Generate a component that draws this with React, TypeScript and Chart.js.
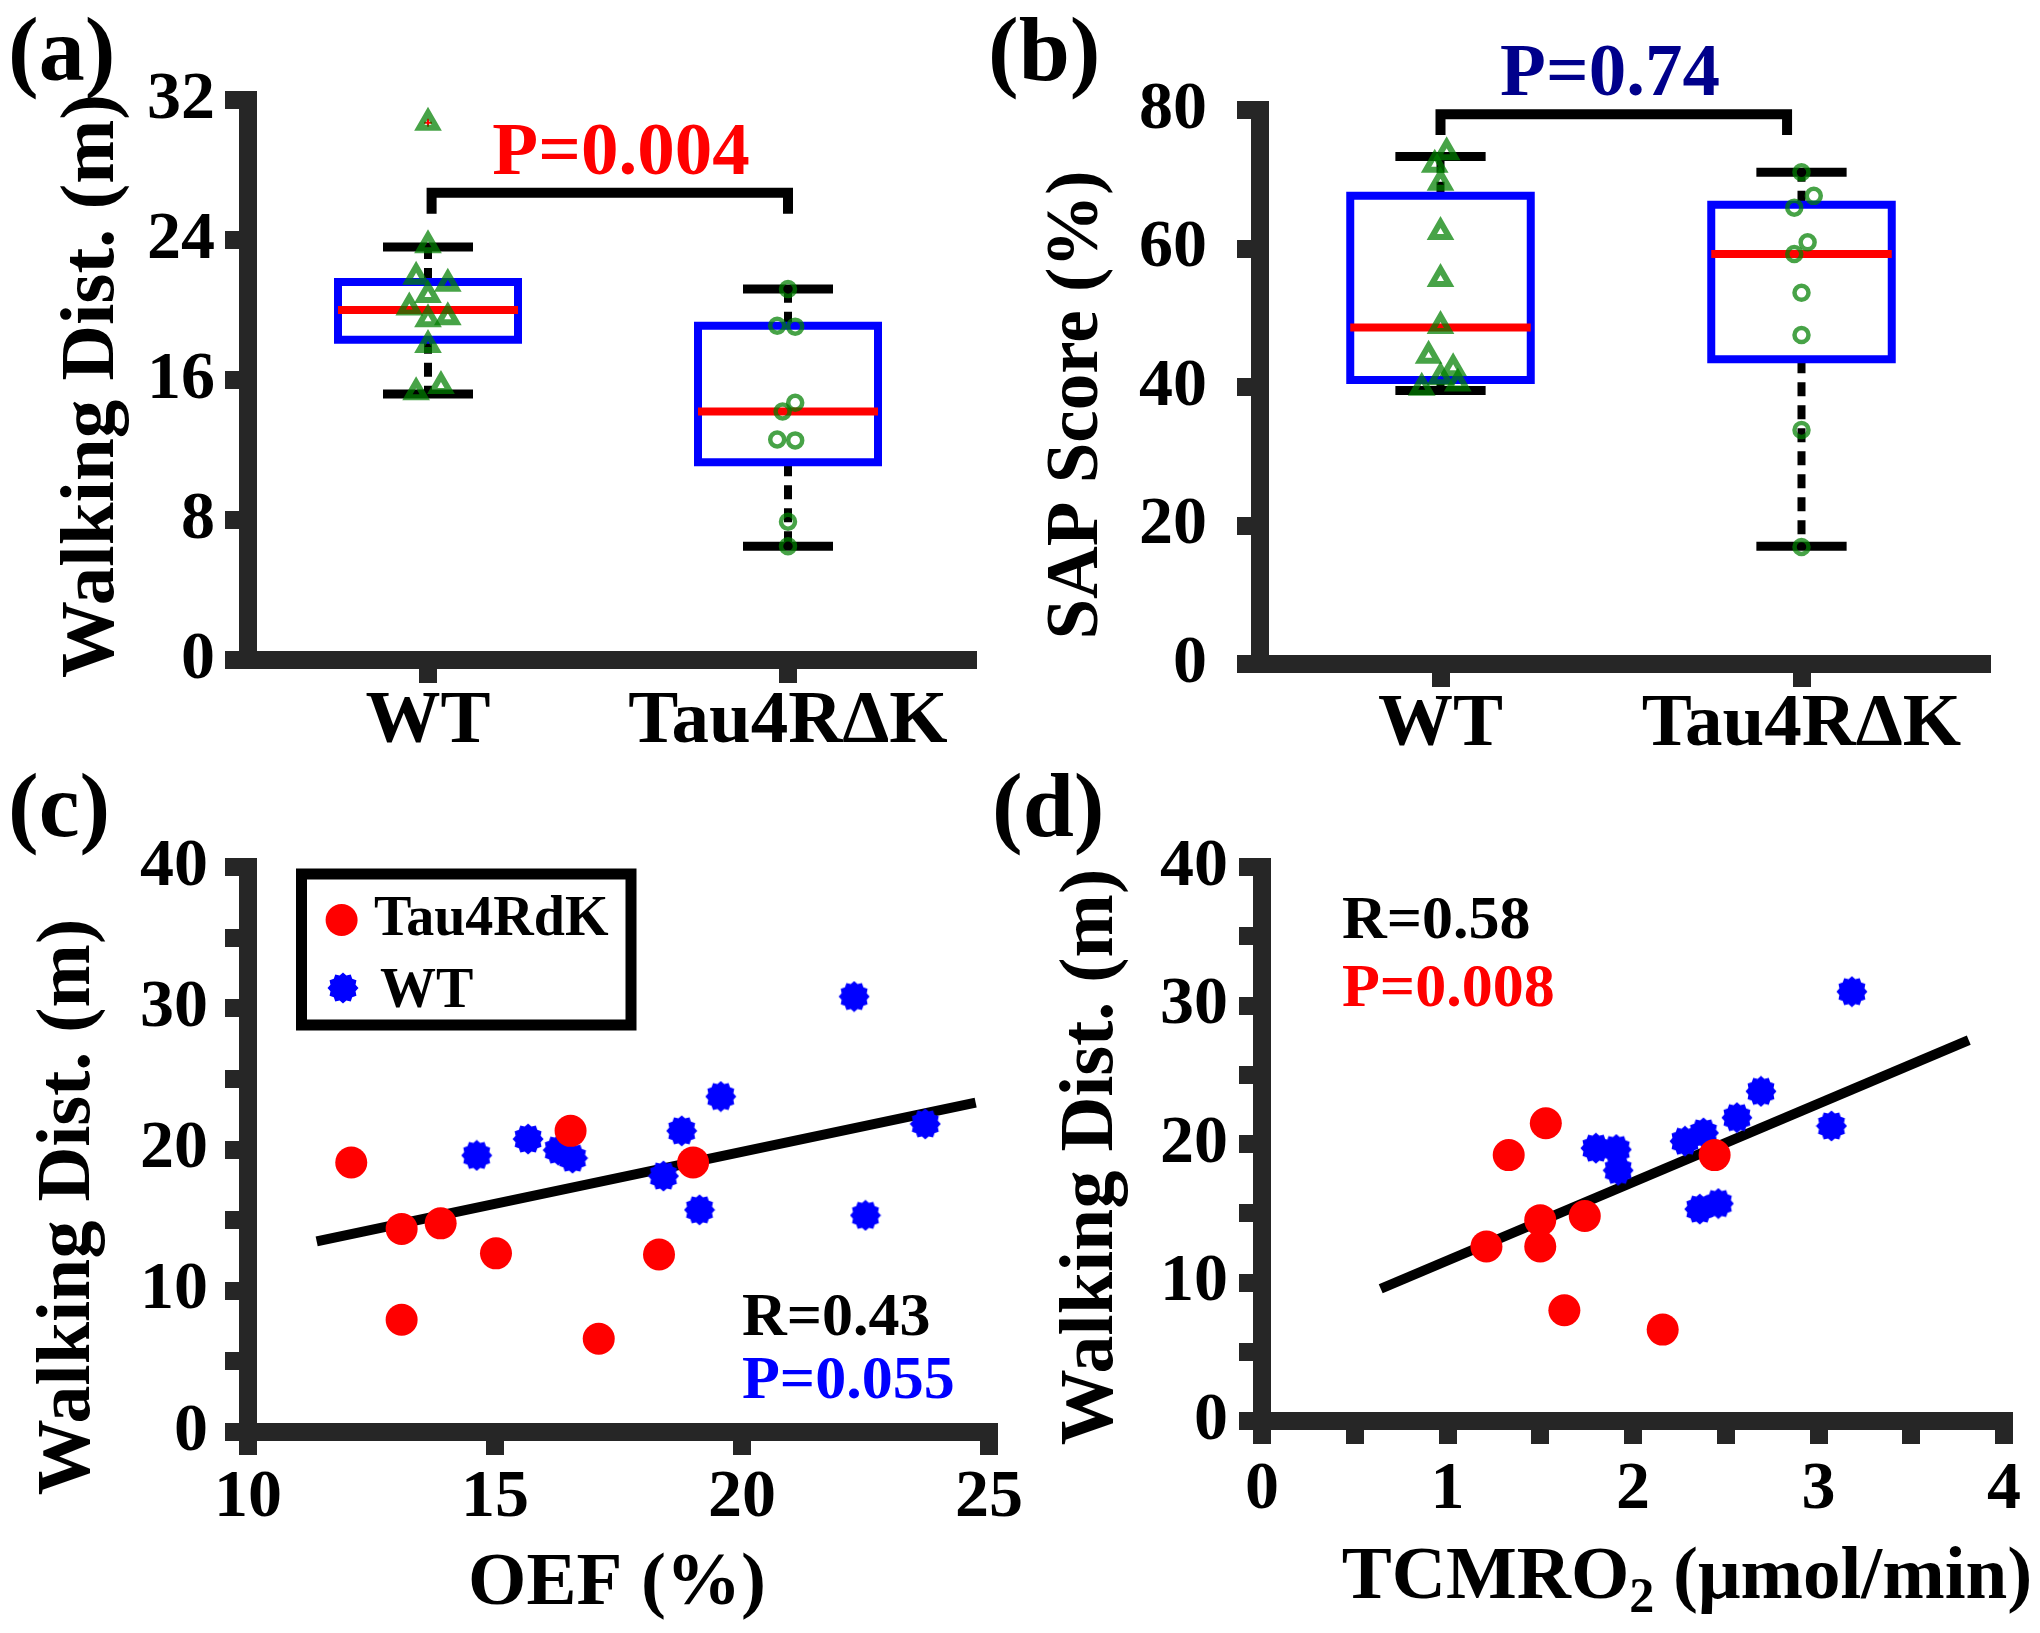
import React, { useEffect, useRef } from 'react';
import { Chart, registerables } from 'chart.js';

Chart.register(...registerables);

const W = 2040;
const H = 1633;
const FONT = "'Liberation Serif', 'Times New Roman', serif";
const AXC = '#262626';
const BLUE = '#0000ff';
const RED = '#ff0000';
const GREEN = 'rgba(0,128,0,0.72)';
const NAVY = '#00008b';

// ---------- shared categories for (a) and (b) ----------
const groupNames = ['WT', 'Tau4R\u0394K'];
const groupPos = [1, 2];

// ---------- (a) Walking distance box plot ----------
const aQ1 = [18.3, 11.3];
const aMed = [20.0, 14.2];
const aQ3 = [21.6, 19.1];
const aLo = [15.2, 6.5];
const aHi = [23.6, 21.2];
const aWtX = [1.0, 0.967, 1.055, 1.0, 0.948, 1.055, 1.0, 1.0, 1.036, 0.967, 1.0];
const aWtY = [23.7, 21.9, 21.5, 20.86, 20.15, 19.58, 19.47, 18.0, 15.66, 15.3, 30.7];
const aTauX = [2.0, 1.97, 2.02, 2.02, 1.985, 1.97, 2.02, 2.0, 2.0];
const aTauY = [21.2, 19.1, 19.05, 14.7, 14.2, 12.6, 12.55, 7.9, 6.5];
const aOutX = [1.0];
const aOutY = [30.7];
const aBracketX = [1.01, 2.0];
const aBracketY = [25.5, 26.7];
const aYTicks = [0, 8, 16, 24, 32];
const aYLabels = ['0', '8', '16', '24', '32'];

// ---------- (b) SAP score box plot ----------
const bQ1 = [41.0, 44.0];
const bMed = [48.6, 59.2];
const bQ3 = [67.6, 66.3];
const bLo = [39.5, 17.0];
const bHi = [73.3, 71.0];
const bWtX = [1.017, 0.984, 1.0, 1.0, 1.0, 1.0, 0.967, 1.035, 1.0, 1.048, 0.948];
const bWtY = [73.9, 72.1, 69.5, 62.4, 55.6, 48.8, 44.5, 42.7, 41.4, 40.5, 39.9];
const bTauX = [2.0, 2.034, 1.98, 2.017, 1.98, 2.0, 2.0, 2.0, 2.0];
const bTauY = [71.0, 67.6, 65.9, 60.9, 59.2, 53.6, 47.5, 33.8, 16.9];
const bBracketX = [1.0, 1.96];
const bBracketY = [76.4, 79.4];
const bYTicks = [0, 20, 40, 60, 80];
const bYLabels = ['0', '20', '40', '60', '80'];

// ---------- (c) Walking distance vs OEF ----------
const cTauOEF = [12.09, 13.11, 13.9, 15.02, 13.11, 16.53, 17.1, 18.32, 19.01];
const cTauDist = [19.08, 14.38, 14.77, 12.65, 7.95, 21.32, 6.6, 12.57, 19.08];
const cWtOEF = [14.63, 15.67, 16.28, 16.57, 18.41, 18.78, 19.57, 19.14, 22.27, 22.5, 23.71];
const cWtDist = [19.58, 20.74, 19.96, 19.39, 18.12, 21.32, 23.75, 15.73, 30.83, 15.34, 21.81];
const cFitX = [11.39, 24.73];
const cFitY = [13.49, 23.32];
const cXTicks = [10, 15, 20, 25];
const cXLabels = ['10', '15', '20', '25'];
const cYTicks = [0, 5, 10, 15, 20, 25, 30, 35, 40];
const cYLabels = ['0', '', '10', '', '20', '', '30', '', '40'];

// ---------- (d) Walking distance vs TCMRO2 ----------
const dTauTC = [1.21, 1.33, 1.53, 1.5, 1.5, 1.74, 1.63, 2.16, 2.44];
const dTauDist = [12.6, 19.2, 21.5, 14.5, 12.6, 14.8, 8.0, 6.6, 19.2];
const dWtTC = [1.8, 1.91, 1.92, 2.28, 2.38, 2.36, 2.46, 2.56, 2.69, 3.07, 3.18];
const dWtDist = [19.7, 19.6, 18.1, 20.2, 20.8, 15.3, 15.7, 21.9, 23.8, 21.3, 31.0];
const dFitX = [0.64, 3.81];
const dFitY = [9.55, 27.5];
const dXTicks = [0, 0.5, 1, 1.5, 2, 2.5, 3, 3.5, 4];
const dXLabels = ['0', '', '1', '', '2', '', '3', '', '4'];
const dYTicks = [0, 5, 10, 15, 20, 25, 30, 35, 40];
const dYLabels = ['0', '', '10', '', '20', '', '30', '', '40'];

const legendNames = ['Tau4RdK', 'WT'];

const BOX_HALF = 0.25;
const CAP_HALF = 0.125;
const YAXW = 220;
const XAXH = 150;

function pts(xs: number[], ys: number[]) {
  return xs.map((x, i) => ({ x, y: ys[i] }));
}

function lineDs(xs: number[], ys: number[], color: string, width: number, order: number, dash: number[] = []) {
  return {
    data: pts(xs, ys),
    showLine: true,
    borderColor: color,
    borderWidth: width,
    borderDash: dash,
    borderCapStyle: 'butt',
    borderJoinStyle: 'miter',
    pointRadius: 0,
    pointHoverRadius: 0,
    tension: 0,
    order,
    clip: false,
  };
}

function boxplotDatasets(q1: number[], med: number[], q3: number[], lo: number[], hi: number[]) {
  const out: any[] = [];
  groupPos.forEach((c, i) => {
    const l = c - BOX_HALF;
    const r = c + BOX_HALF;
    out.push(lineDs([l, r, r, l, l, r], [q1[i], q1[i], q3[i], q3[i], q1[i], q1[i]], BLUE, 8, 3));
    out.push(lineDs([l, r], [med[i], med[i]], RED, 8, 2));
    out.push(lineDs([c, c], [q3[i], hi[i]], '#000', 8, 4, [14, 9]));
    out.push(lineDs([c, c], [q1[i], lo[i]], '#000', 8, 4, [14, 9]));
    out.push(lineDs([c - CAP_HALF, c + CAP_HALF], [hi[i], hi[i]], '#000', 9, 4));
    out.push(lineDs([c - CAP_HALF, c + CAP_HALF], [lo[i], lo[i]], '#000', 9, 4));
  });
  return out;
}

function bracketDs(bx: number[], by: number[]) {
  return lineDs([bx[0], bx[0], bx[1], bx[1]], [by[0], by[1], by[1], by[0]], '#000', 10, 1);
}

function markerDs(xs: number[], ys: number[], style: any, radius: number, fill: string, border: string, bw: number, order: number) {
  return {
    data: pts(xs, ys),
    showLine: false,
    pointStyle: style,
    pointRadius: radius,
    pointHoverRadius: radius,
    pointBackgroundColor: fill,
    pointBorderColor: border,
    pointBorderWidth: bw,
    order,
    clip: false,
  };
}

function makeStar(): HTMLCanvasElement {
  const cv = document.createElement('canvas');
  cv.width = 32;
  cv.height = 32;
  const g = cv.getContext('2d') as CanvasRenderingContext2D;
  g.fillStyle = BLUE;
  g.beginPath();
  const n = 12;
  for (let k = 0; k < 2 * n; k++) {
    const r = k % 2 === 0 ? 15.5 : 13;
    const a = (Math.PI * k) / n;
    const px = 16 + r * Math.cos(a);
    const py = 16 + r * Math.sin(a);
    if (k === 0) g.moveTo(px, py);
    else g.lineTo(px, py);
  }
  g.closePath();
  g.fill();
  return cv;
}

type AxisSpec = { min: number; max: number; ticks: number[]; labels: string[]; size: number; pad: number };

function axisOpts(which: 'x' | 'y', a: AxisSpec) {
  return {
    type: 'linear',
    position: which === 'x' ? 'bottom' : 'left',
    min: a.min,
    max: a.max,
    afterBuildTicks: (s: any) => {
      s.ticks = a.ticks.map((v) => ({ value: v }));
    },
    afterFit: (s: any) => {
      if (which === 'x') {
        s.height = XAXH;
        s.paddingLeft = 0;
        s.paddingRight = 0;
      } else {
        s.width = YAXW;
        s.paddingTop = 0;
        s.paddingBottom = 0;
      }
    },
    ticks: {
      autoSkip: false,
      maxRotation: 0,
      minRotation: 0,
      padding: a.pad,
      color: '#000',
      font: { family: FONT, weight: 'bold', size: a.size, lineHeight: 1 },
      callback: (_v: any, i: number) => a.labels[i],
    },
    grid: {
      drawOnChartArea: false,
      drawTicks: true,
      tickLength: 23,
      tickWidth: 18,
      tickColor: AXC,
      lineWidth: 18,
      color: AXC,
    },
    border: { display: true, width: 18, color: AXC },
  };
}

type Area = { left: number; right: number; top: number; bottom: number };

function makeChart(canvas: HTMLCanvasElement, area: Area, xs: AxisSpec, ys: AxisSpec, datasets: any[], draw: (c: any) => void) {
  return new Chart(canvas, {
    type: 'scatter',
    data: { datasets },
    plugins: [{ id: 'overlayText', afterDraw: (c: any) => draw(c) }],
    options: {
      responsive: false,
      animation: false,
      devicePixelRatio: 1,
      events: [],
      layout: {
        padding: {
          left: area.left - YAXW,
          top: area.top,
          right: W - area.right,
          bottom: H - area.bottom - XAXH,
        },
      },
      plugins: { legend: { display: false }, tooltip: { enabled: false } },
      scales: { x: axisOpts('x', xs), y: axisOpts('y', ys) } as any,
    },
  } as any);
}

function font(size: number) {
  return `bold ${size}px ${FONT}`;
}

function text(ctx: CanvasRenderingContext2D, s: string, x: number, y: number, size: number, color: string, align: CanvasTextAlign = 'left') {
  ctx.save();
  ctx.font = font(size);
  ctx.fillStyle = color;
  ctx.textAlign = align;
  ctx.textBaseline = 'alphabetic';
  ctx.fillText(s, x, y);
  ctx.restore();
}

function vtext(ctx: CanvasRenderingContext2D, s: string, x: number, y: number, size: number) {
  ctx.save();
  ctx.translate(x, y);
  ctx.rotate(-Math.PI / 2);
  ctx.font = font(size);
  ctx.fillStyle = '#000';
  ctx.textAlign = 'center';
  ctx.textBaseline = 'alphabetic';
  ctx.fillText(s, 0, 0);
  ctx.restore();
}

export default function App() {
  const ra = useRef<HTMLCanvasElement>(null);
  const rb = useRef<HTMLCanvasElement>(null);
  const rc = useRef<HTMLCanvasElement>(null);
  const rd = useRef<HTMLCanvasElement>(null);

  useEffect(() => {
    const star = makeStar();
    const charts: Chart[] = [];

    // (a)
    charts.push(
      makeChart(
        ra.current as HTMLCanvasElement,
        { left: 248, right: 968, top: 100, bottom: 660 },
        { min: 0.5, max: 2.5, ticks: groupPos, labels: groupNames, size: 75, pad: 2.5 },
        { min: 0, max: 32, ticks: aYTicks, labels: aYLabels, size: 68, pad: 10 },
        [
          markerDs(aWtX, aWtY, 'triangle', 10, 'rgba(0,0,0,0)', GREEN, 6, 0),
          markerDs(aTauX, aTauY, 'circle', 7, 'rgba(0,0,0,0)', GREEN, 4.5, 0),
          markerDs(aOutX, aOutY, 'cross', 4, RED, RED, 2, 1),
          ...boxplotDatasets(aQ1, aMed, aQ3, aLo, aHi),
          bracketDs(aBracketX, aBracketY),
        ],
        (c) => {
          const ctx = c.ctx;
          text(ctx, '(a)', 8, 80, 92, '#000');
          vtext(ctx, 'Walking Dist. (m)', 113, 386, 77);
          text(ctx, 'P=0.004', 621, 174, 75, RED, 'center');
        }
      )
    );

    // (b)
    charts.push(
      makeChart(
        rb.current as HTMLCanvasElement,
        { left: 1260, right: 1982, top: 110, bottom: 664 },
        { min: 0.5, max: 2.5, ticks: groupPos, labels: groupNames, size: 75, pad: 1.5 },
        { min: 0, max: 80, ticks: bYTicks, labels: bYLabels, size: 68, pad: 30 },
        [
          markerDs(bWtX, bWtY, 'triangle', 10, 'rgba(0,0,0,0)', GREEN, 6, 0),
          markerDs(bTauX, bTauY, 'circle', 7, 'rgba(0,0,0,0)', GREEN, 4.5, 0),
          ...boxplotDatasets(bQ1, bMed, bQ3, bLo, bHi),
          bracketDs(bBracketX, bBracketY),
        ],
        (c) => {
          const ctx = c.ctx;
          text(ctx, '(b)', 988, 80, 92, '#000');
          vtext(ctx, 'SAP Score (%)', 1097, 405, 73);
          text(ctx, 'P=0.74', 1610, 95, 75, NAVY, 'center');
        }
      )
    );

    // (c)
    charts.push(
      makeChart(
        rc.current as HTMLCanvasElement,
        { left: 248, right: 989, top: 867, bottom: 1432 },
        { min: 10, max: 25, ticks: cXTicks, labels: cXLabels, size: 68, pad: 9 },
        { min: 0, max: 40, ticks: cYTicks, labels: cYLabels, size: 68, pad: 17 },
        [
          markerDs(cTauOEF, cTauDist, 'circle', 16, RED, RED, 0, 0),
          markerDs(cWtOEF, cWtDist, star, 15, BLUE, BLUE, 0, 1),
          lineDs(cFitX, cFitY, '#000', 10, 2),
        ],
        (c) => {
          const ctx = c.ctx;
          text(ctx, '(c)', 8, 836, 92, '#000');
          vtext(ctx, 'Walking Dist. (m)', 89, 1207, 76);
          text(ctx, 'OEF (%)', 617, 1604, 75, '#000', 'center');
          text(ctx, 'R=0.43', 742, 1335, 62, '#000');
          text(ctx, 'P=0.055', 742, 1398, 62, BLUE);
          // legend
          ctx.save();
          ctx.fillStyle = '#fff';
          ctx.fillRect(301.5, 874, 329.5, 151);
          ctx.lineWidth = 11;
          ctx.strokeStyle = '#000';
          ctx.strokeRect(301.5, 874, 329.5, 151);
          ctx.fillStyle = RED;
          ctx.beginPath();
          ctx.arc(341.6, 920, 16, 0, Math.PI * 2);
          ctx.fill();
          ctx.drawImage(star, 343 - 16, 988 - 16);
          ctx.restore();
          text(ctx, legendNames[0], 374, 935, 56, '#000');
          text(ctx, legendNames[1], 380, 1007, 56, '#000');
        }
      )
    );

    // (d)
    charts.push(
      makeChart(
        rd.current as HTMLCanvasElement,
        { left: 1262, right: 2004, top: 867, bottom: 1421 },
        { min: 0, max: 4, ticks: dXTicks, labels: dXLabels, size: 68, pad: 12 },
        { min: 0, max: 40, ticks: dYTicks, labels: dYLabels, size: 68, pad: 11 },
        [
          markerDs(dTauTC, dTauDist, 'circle', 16, RED, RED, 0, 0),
          markerDs(dWtTC, dWtDist, star, 15, BLUE, BLUE, 0, 1),
          lineDs(dFitX, dFitY, '#000', 10, 2),
        ],
        (c) => {
          const ctx = c.ctx;
          text(ctx, '(d)', 992, 836, 92, '#000');
          vtext(ctx, 'Walking Dist. (m)', 1112, 1157, 76);
          text(ctx, 'R=0.58', 1342, 938, 62, '#000');
          text(ctx, 'P=0.008', 1342, 1006, 62, RED);
          // x title with subscript
          ctx.save();
          const p1 = 'TCMRO';
          const p2 = '2';
          const p3 = ' (\u03bcmol/min)';
          ctx.font = font(75);
          const w1 = ctx.measureText(p1).width;
          const w3 = ctx.measureText(p3).width;
          ctx.font = font(50);
          const w2 = ctx.measureText(p2).width;
          const x0 = 1687 - (w1 + w2 + w3) / 2;
          ctx.restore();
          text(ctx, p1, x0, 1598, 75, '#000');
          text(ctx, p2, x0 + w1, 1612, 50, '#000');
          text(ctx, p3, x0 + w1 + w2, 1598, 75, '#000');
        }
      )
    );

    return () => charts.forEach((ch) => ch.destroy());
  }, []);

  const cvStyle: React.CSSProperties = { position: 'absolute', left: 0, top: 0, width: W, height: H };
  return (
    <div style={{ position: 'absolute', left: 0, top: 0, width: W, height: H, background: '#fff', overflow: 'hidden' }}>
      <canvas ref={ra} width={W} height={H} style={cvStyle} />
      <canvas ref={rb} width={W} height={H} style={cvStyle} />
      <canvas ref={rc} width={W} height={H} style={cvStyle} />
      <canvas ref={rd} width={W} height={H} style={cvStyle} />
    </div>
  );
}
